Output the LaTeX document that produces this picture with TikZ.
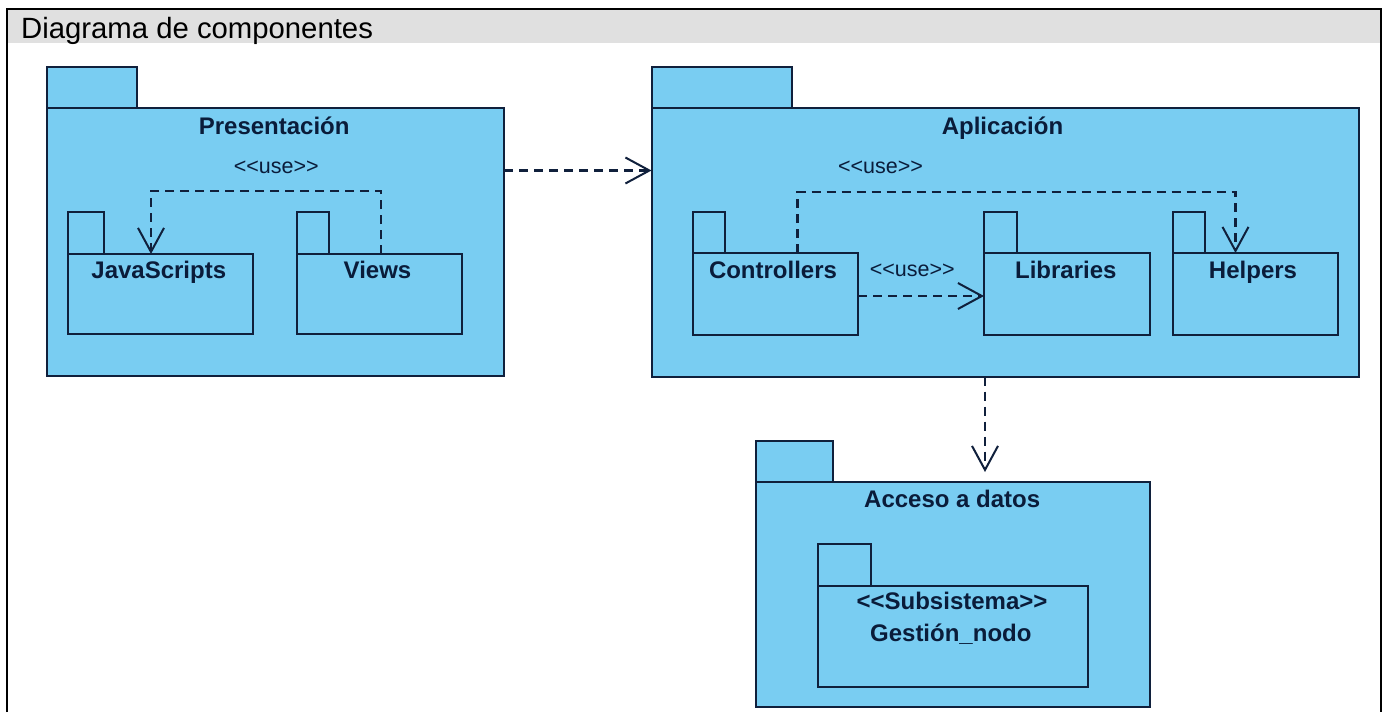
\documentclass[tikz,border=0pt]{standalone}
\usepackage{fontspec}
\setmainfont{Liberation Sans}
\usetikzlibrary{arrows.meta,fit,calc}
\definecolor{pkgfill}{RGB}{121,205,242}
\definecolor{pkgline}{RGB}{16,32,60}
\definecolor{pkgtext}{RGB}{10,28,58}
\definecolor{titlebar}{RGB}{224,224,224}
\begin{document}
\begin{tikzpicture}[x=1pt,y=-1pt,
  pkg/.style={draw=pkgline, fill=pkgfill, line width=2pt, inner sep=0pt, outer sep=0pt},
  pkgname/.style={text=pkgtext, font=\fontsize{24}{28}\selectfont\bfseries, anchor=base, inner sep=0pt},
  usetag/.style={text=pkgtext, font=\fontsize{21.5}{26}\selectfont, anchor=base, inner sep=0pt},
  dep/.style={draw=pkgline, line width=2.1pt, dash pattern=on 9pt off 6pt,
    -{Straight Barb[length=24pt,width=26pt,line width=2pt]}},
]
% page and frame
\useasboundingbox (0,0) rectangle (1386,712);
\fill[white] (0,0) rectangle (1386,712);
\fill[titlebar] (7,9) rectangle (1381,43);
\draw[line width=2.4pt, black] (7,712) -- (7,9) -- (1381,9) -- (1381,712);
\node[anchor=base west, font=\fontsize{29.3}{35}\selectfont, inner sep=0pt, text=black] (title) at (21,38.3) {Diagrama de componentes};

% Presentacion package
\node[pkg, fit={(47,67) (137,108)}] (presTab) {};
\node[pkg, fit={(47,108) (504,376)}] (pres) {};
\node[pkgname] (presName) at (274.2,134) {Presentación};
\node[pkg, fit={(68,212) (104,254)}] (jsTab) {};
\node[pkg, fit={(68,254) (253,334)}] (js) {};
\node[pkgname] (jsName) at (158.8,278) {JavaScripts};
\node[pkg, fit={(297,212) (329,254)}] (viewsTab) {};
\node[pkg, fit={(297,254) (462,334)}] (views) {};
\node[pkgname] (viewsName) at (377.5,278) {Views};
\node[usetag] (use1) at (276.3,173.3) {<{}<use>{}>};

% Aplicacion package
\node[pkg, fit={(651.5,67) (791.5,108)}] (aplTab) {};
\node[pkg, fit={(651.5,108) (1359,376.7)}] (apl) {};
\node[pkgname] (aplName) at (1002.5,134.5) {Aplicación};
\node[pkg, fit={(692.8,212) (725,253)}] (ctrlTab) {};
\node[pkg, fit={(692.8,253) (858,335)}] (ctrl) {};
\node[pkgname] (ctrlName) at (773,278) {Controllers};
\node[pkg, fit={(984,212) (1016.5,253)}] (libTab) {};
\node[pkg, fit={(984,253) (1150,335)}] (lib) {};
\node[pkgname] (libName) at (1065.8,278) {Libraries};
\node[pkg, fit={(1172.6,212) (1205,253)}] (helpTab) {};
\node[pkg, fit={(1172.6,253) (1338,335)}] (help) {};
\node[pkgname] (helpName) at (1253,278) {Helpers};
\node[usetag] (use2) at (880.5,173.3) {<{}<use>{}>};
\node[usetag] (use3) at (912.3,276.7) {<{}<use>{}>};

% Acceso a datos package
\node[pkg, fit={(755.7,440.7) (833,482)}] (accTab) {};
\node[pkg, fit={(755.7,482) (1150,707)}] (acc) {};
\node[pkgname] (accName) at (952.2,507) {Acceso a datos};
\node[pkg, fit={(818,544) (871,586)}] (gestTab) {};
\node[pkg, fit={(818,586) (1088,687)}] (gest) {};
\node[pkgname] (gestStereo) at (952,609) {<{}<Subsistema>{}>};
\node[pkgname] (gestName) at (950.8,641.7) {Gestión\_nodo};

% dependencies
\coordinate (lvlA) at (0,170.5);
\draw[dep] (pres.east |- lvlA) -- (apl.west |- lvlA);

\coordinate (bendA) at (381,191);
\coordinate (bendB) at (151,191);
\draw[dep] (views.north -| bendA) -- (bendA) -- (bendB) -- (js.north -| bendB);

\coordinate (bendC) at (797.5,192);
\coordinate (bendD) at (1235.5,192);
\draw[dep] (ctrl.north -| bendC) -- (bendC) -- (bendD) -- (help.north -| bendD);

\coordinate (lvlB) at (0,296);
\draw[dep] (ctrl.east |- lvlB) -- (lib.west |- lvlB);

\coordinate (colA) at (985,0);
\draw[dep] (apl.south -| colA) -- ($(acc.north -| colA)+(0,-10)$);
\end{tikzpicture}
\end{document}
